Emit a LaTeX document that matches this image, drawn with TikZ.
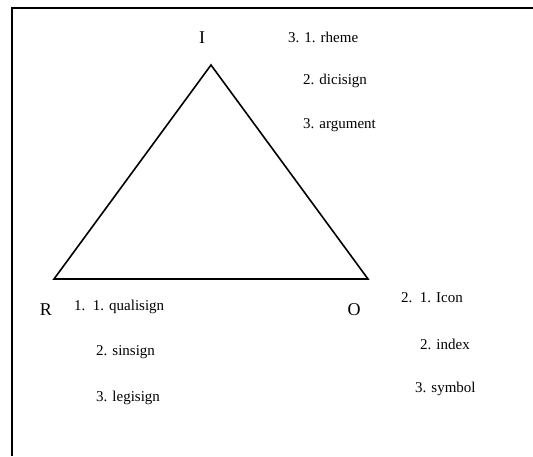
\documentclass[tikz,border=0pt]{standalone}
\usepackage{fontspec}
\setmainfont{Liberation Serif}
\usepackage{tikz}
\usetikzlibrary{positioning}

\tikzset{
  vlabel/.style={font=\fontsize{18}{21}\selectfont, inner sep=0pt},
  item/.style={anchor=west, font=\fontsize{15}{18}\selectfont, inner sep=0pt}
}

\begin{document}
\begin{tikzpicture}[x=1pt, y=-1pt]
  \useasboundingbox (0,0) rectangle (533,456);
  % frame (only top and left edge visible)
  \draw[line width=1.8pt] (533,8) -- (12,8) -- (12,456);

  % triangle vertices
  \coordinate (apex) at (211,65);
  \coordinate (left) at (54,279);
  \coordinate (right) at (368,279);
  \draw[line width=1.6pt, line join=miter] (apex) -- (left) -- (right) -- cycle;

  \node[vlabel] (I) at (202,38) {I};
  \node[vlabel] (R) at (46,310) {R};
  \node[vlabel] (O) at (354,310) {O};

  \node[item] (rheme) at (288,37) {3. 1. rheme};
  \node[item] (dicisign) at (303,81) {2. dicisign};
  \node[item] (argument) at (303,125) {3. argument};

  \node[item] (qualisign) at (74,307) {1.\ \ 1. qualisign};
  \node[item] (sinsign) at (96,352) {2. sinsign};
  \node[item] (legisign) at (96,398) {3. legisign};

  \node[item] (icon) at (401,298) {2.\ \ 1. Icon};
  \node[item] (index) at (420,344) {2. index};
  \node[item] (symbol) at (415,389) {3. symbol};
\end{tikzpicture}
\end{document}
